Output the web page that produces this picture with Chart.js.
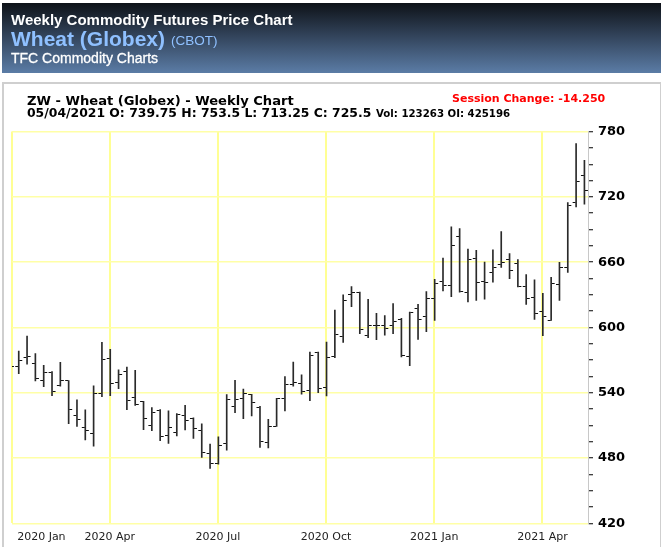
<!DOCTYPE html>
<html>
<head>
<meta charset="utf-8">
<title>Wheat (Globex) Weekly Chart</title>
<script src="https://cdn.jsdelivr.net/npm/chart.js@4"></script>
<style>
  html, body { margin: 0; padding: 0; background: #fff; overflow: hidden; }
  body { width: 661px; height: 547px; position: relative; }
  #header {
    position: absolute; left: 2px; top: 3px; width: 659px; height: 70px;
    background: linear-gradient(to bottom, #0e1218 0%, #5b7ca6 100%);
  }
  #panel {
    position: absolute; left: 2px; top: 82px; width: 656px; height: 470px;
    border: 2px solid #cfcfcf; box-sizing: content-box;
  }
  #chart { position: absolute; left: 0; top: 0; }
  .t { position: absolute; white-space: nowrap; line-height: 1; }
  .hd { font-family: "Liberation Sans", Arial, sans-serif; font-weight: bold; }
  .pn { font-family: "DejaVu Sans", Verdana, sans-serif; font-weight: bold; color: #000; }
</style>
</head>
<body>
<div id="header"></div>
<div id="panel"></div>
<canvas id="chart" width="661" height="547"></canvas>

<div class="t hd" style="left:11px;top:12px;font-size:15px;color:#fff;">Weekly Commodity Futures Price Chart</div>
<div class="t hd" style="left:11px;top:28px;font-size:21px;color:#8fc0ff;">Wheat (Globex)</div>
<div class="t" style="left:171px;top:34px;font-size:13.5px;color:#8fc0ff;font-family:'Liberation Sans',Arial,sans-serif;">(CBOT)</div>
<div class="t" style="left:11px;top:51px;font-size:14px;color:#fff;font-family:'Liberation Sans',Arial,sans-serif;-webkit-text-stroke:0.3px #fff;">TFC Commodity Charts</div>

<div class="t pn" style="left:27px;top:94px;font-size:13.1px;">ZW - Wheat (Globex) - Weekly Chart</div>
<div class="t pn" style="left:27px;top:107px;font-size:12.4px;">05/04/2021 O: 739.75 H: 753.5 L: 713.25 C: 725.5</div>
<div class="t pn" style="left:376px;top:109px;font-size:10.2px;">Vol: 123263 OI: 425196</div>
<div class="t pn" style="left:452px;top:93px;font-size:11px;color:#f00;">Session Change: -14.250</div>

<script>
// weekly bars (last one from the header line)
const opens = [564.6, 564.6, 572.3, 567, 550.9, 558.5, 546.6, 551.2, 519.4, 508.4,
  502.3, 539, 571.7, 549.4, 559.4, 535.6, 532.2, 509.6, 523.4, 500.7,
  503.5, 519.4, 516.3, 505.6, 484.2, 474.8, 493.4, 527.3, 534.7, 538,
  526.7, 494.6, 509, 535, 547.8, 548.4, 542.3, 577, 544.8, 573.2,
  591.9, 630.7, 632.5, 592.8, 602, 602, 601.7, 606.9, 573.2, 617.6,
  609.9, 626.4, 642.6, 638.3, 683.3, 632.2, 663.1, 642.3, 650.9, 657.9,
  662.5, 659.1, 637.4, 627.3, 615.1, 606.5, 639.3, 654.9, 714.8, 739.75];
const highs = [570, 578.4, 592.2, 576, 565.3, 559.4, 568, 551.2, 533.5, 524.3,
  546.3, 586.4, 580, 561, 563.7, 560.7, 532.2, 526.4, 524.6, 523.4,
  520.9, 528.6, 516.9, 511.4, 492.8, 499.5, 538.3, 551.5, 543.5, 538.7,
  527.6, 515.7, 535, 554.9, 568.3, 556.4, 577.5, 577.5, 586.7, 616,
  630, 637.7, 632.5, 625.8, 613, 611, 622, 608.4, 614.2, 621.2,
  633.1, 644.2, 663.7, 692.5, 690.9, 672, 670.8, 660.1, 671.4, 688.2,
  668, 662.5, 648.7, 643.9, 631.3, 646, 659.8, 714.8, 768.9, 753.5];
const lows = [556, 557.6, 566.2, 550.9, 545.7, 537.4, 546, 511.7, 509, 496.8,
  490.9, 536.5, 537.4, 543.9, 524.6, 528.3, 506.2, 505.3, 496.1, 493.4,
  500.4, 505.9, 498, 480.6, 470.5, 474.4, 487.3, 521.8, 516.3, 518.8,
  489.7, 489.4, 509, 523.4, 546, 538.7, 532.8, 540.2, 537.1, 572.3,
  586.4, 619.1, 594.3, 590.6, 588.8, 593, 594.3, 572.9, 565, 589.1,
  596.1, 606.5, 633.5, 628.3, 632.5, 623.4, 624.9, 626.1, 641.7, 655.2,
  644.8, 637.4, 621.2, 607.5, 592.5, 606.5, 624.9, 650.6, 710.8, 713.25];
const closes = [564.6, 569.8, 573.2, 553.3, 558.5, 541.1, 551.5, 524.6, 515.4, 505.6,
  539, 570.8, 548.7, 557, 533.1, 529.5, 516, 521.5, 499.8, 508.1,
  520.3, 514.8, 507.5, 484.8, 475.4, 491.9, 533.5, 534.1, 539.3, 530.7,
  494.9, 509, 535, 547.8, 549.4, 541.1, 574.7, 543.5, 572.6, 593.7,
  624.9, 632.5, 598, 601.7, 601.7, 599, 605.6, 574.7, 613.9, 607.5,
  626.4, 640.2, 638.3, 675, 633.5, 662.5, 641.1, 641.1, 655.5, 659.8,
  652.7, 638, 626.4, 612.7, 610.5, 640.2, 654.9, 711.7, 734.1, 725.5];

const xTickPositions = [0.19, 3.72, 11.95, 24.95, 37.95, 50.95, 63.95];
const xTickLabels = ['', '2020 Jan', '2020 Apr', '2020 Jul', '2020 Oct', '2021 Jan', '2021 Apr'];
const Y_MIN = 420;
const Y_MAX = 780;
const Y_MINOR = 15;
const Y_MAJOR = 60;

// little half-ticks for open (left of the bar) and close (right of the bar)
function makeTick(side) {
  const c = document.createElement('canvas');
  c.width = 9;
  c.height = 1;
  const g = c.getContext('2d');
  g.fillStyle = '#111';
  if (side === 'left') g.fillRect(1, 0, 3, 1);
  else g.fillRect(5, 0, 3, 1);
  return c;
}

const rangeBars = lows.map((l, i) => ({ x: i, y: [l, highs[i]] }));
const openPts = opens.map((v, i) => ({ x: i, y: v }));
const closePts = closes.map((v, i) => ({ x: i, y: v }));

new Chart(document.getElementById('chart'), {
  type: 'bar',
  data: {
    datasets: [
      { type: 'bar', data: rangeBars, backgroundColor: '#2a2a2a', barThickness: 1 },
      { type: 'line', data: openPts, showLine: false, pointStyle: makeTick('left'), pointRadius: 4 },
      { type: 'line', data: closePts, showLine: false, pointStyle: makeTick('right'), pointRadius: 4 },
    ],
  },
  options: {
    responsive: false,
    animation: false,
    events: [],
    layout: { padding: { left: 12, top: 131.6, right: 0, bottom: 0 } },
    plugins: { legend: { display: false }, tooltip: { enabled: false } },
    scales: {
      x: {
        type: 'linear',
        offset: false,
        min: 0.19,
        max: 69.43,
        afterBuildTicks: axis => { axis.ticks = xTickPositions.map(v => ({ value: v })); },
        afterFit: axis => { axis.height = 23.6; },
        ticks: {
          autoSkip: false,
          maxRotation: 0,
          padding: 7,
          color: '#222',
          font: { family: '"DejaVu Sans"', size: 11 },
          callback: (v, i) => xTickLabels[i],
        },
        border: { display: false },
        grid: {
          offset: false,
          drawTicks: false,
          lineWidth: 2,
          color: ctx => (ctx.tick && ctx.tick.value === 3.72 ? 'transparent' : '#ffff94'),
        },
      },
      y: {
        position: 'right',
        min: Y_MIN,
        max: Y_MAX,
        afterFit: axis => { axis.width = 73; },
        ticks: {
          stepSize: Y_MINOR,
          autoSkip: false,
          padding: 5,
          color: '#000',
          font: { family: '"DejaVu Sans"', size: 13, weight: 'bold' },
          callback: v => (v % Y_MAJOR === 0 ? v : ''),
        },
        border: { color: '#c8c8c8', width: 1 },
        grid: {
          lineWidth: 1.5,
          tickLength: 5,
          tickColor: '#000',
          tickWidth: 1,
          color: ctx => (ctx.tick && ctx.tick.value % Y_MAJOR === 0 ? '#ffffa6' : 'transparent'),
        },
      },
    },
  },
});
</script>
</body>
</html>
